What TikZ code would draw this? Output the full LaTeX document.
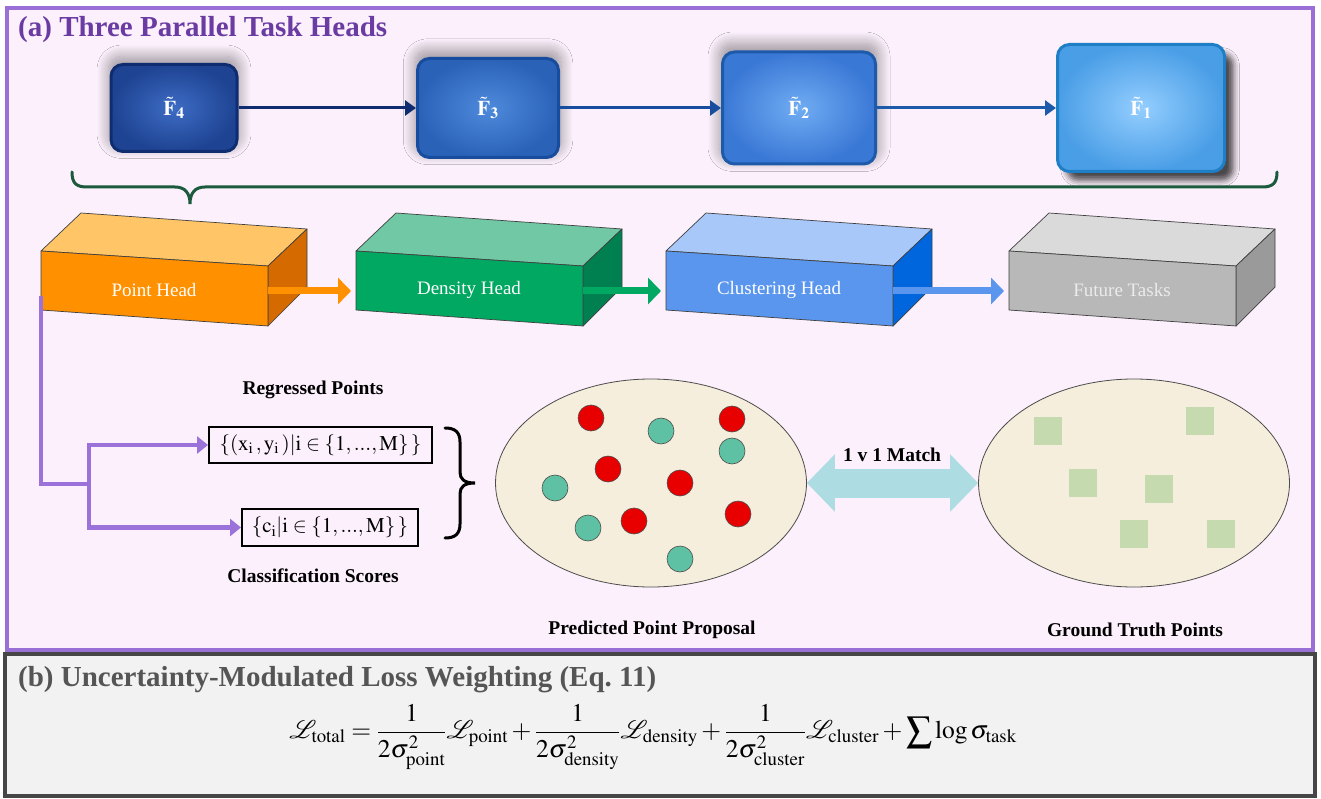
\documentclass[tikz,border=0pt]{standalone}
\usepackage{amsmath}
\usepackage{mathptmx}
\usepackage{fontspec}
\setmainfont{Liberation Serif}
\usetikzlibrary{arrows.meta,shapes.geometric,shadows.blur}

% palette
\definecolor{frameA}{HTML}{9B70D6}
\definecolor{bgA}{HTML}{FBF0FB}
\definecolor{frameB}{HTML}{464646}
\definecolor{bgB}{HTML}{F2F2F2}
\definecolor{titleA}{HTML}{6A3BA2}
\definecolor{titleB}{HTML}{555555}
\definecolor{braceG}{HTML}{1B5A3C}
\definecolor{purpLine}{HTML}{9A72DA}
\definecolor{matchBlue}{HTML}{AEDCE3}
\definecolor{ellFill}{HTML}{F5EEDC}
\definecolor{dotRed}{HTML}{E80000}
\definecolor{dotTeal}{HTML}{5FC1A3}
\definecolor{gtSq}{HTML}{C6DAB0}
% feature boxes: border / outer / inner
\definecolor{fourB}{HTML}{0F2C70}\definecolor{fourO}{HTML}{1E4392}\definecolor{fourI}{HTML}{3D6CC4}
\definecolor{threeB}{HTML}{184C9E}\definecolor{threeO}{HTML}{2A62B8}\definecolor{threeI}{HTML}{4E8ADC}
\definecolor{twoB}{HTML}{1D5AAA}\definecolor{twoO}{HTML}{3A78D6}\definecolor{twoI}{HTML}{70ACF2}
\definecolor{oneB}{HTML}{1E7EC6}\definecolor{oneO}{HTML}{4A9EE6}\definecolor{oneI}{HTML}{94CEFF}
% task heads: front / top / side
\definecolor{ptF}{HTML}{FF9000}\definecolor{ptT}{HTML}{FFC566}\definecolor{ptS}{HTML}{D46A00}
\definecolor{dnF}{HTML}{00A862}\definecolor{dnT}{HTML}{70C8A4}\definecolor{dnS}{HTML}{008050}
\definecolor{clF}{HTML}{5A96EE}\definecolor{clT}{HTML}{A8C8FA}\definecolor{clS}{HTML}{0066DD}
\definecolor{fuF}{HTML}{B8B8B8}\definecolor{fuT}{HTML}{DADADA}\definecolor{fuS}{HTML}{9A9A9A}

\newcommand\fsz[1]{\fontsize{#1}{#1}\selectfont}

% a 3-D task head block; #1 name, #2 front-left x, #3 front, #4 top, #5 side, #6 label, #7 label colour
\newcommand\taskblock[7]{%
  \coordinate (#1-A) at (#2,251);
  \coordinate (#1-B) at (#2+227,266);
  \coordinate (#1-C) at (#2+227,326);
  \coordinate (#1-D) at (#2,310);
  \coordinate (#1-E) at (#2+40,213);
  \coordinate (#1-F) at (#2+266,229);
  \coordinate (#1-G) at (#2+266,287);
  \coordinate (#1-in) at (#2-5,291);
  \coordinate (#1-out) at (#2+227,291);
  \filldraw[blockedge, fill=#4] (#1-A) -- (#1-E) -- (#1-F) -- (#1-B) -- cycle;
  \filldraw[blockedge, fill=#5] (#1-B) -- (#1-F) -- (#1-G) -- (#1-C) -- cycle;
  \filldraw[blockedge, fill=#3] (#1-A) -- (#1-B) -- (#1-C) -- (#1-D) -- cycle;
  \node[headlabel, text=#7] (#1) at (#2+113,290) {#6};
}

\begin{document}
\begin{tikzpicture}[x=1pt,y=-1pt,
  feat/.style={rounded corners=12pt, line width=3pt, align=center, text=white,
    font=\fsz{21}},
  glow/.style={blur shadow={shadow xshift=0pt, shadow yshift=6pt, shadow scale=1.04,
    shadow blur radius=11pt, shadow blur steps=20, shadow opacity=38}},
  featarrow/.style={line width=3pt, -{Triangle[length=11pt,width=15pt]}},
  blockedge/.style={draw=black!75, line width=0.7pt, line join=round},
  headlabel/.style={font=\fsz{19}},
  headarrow/.style={line width=7pt, -{Triangle[length=13pt,width=26pt]}},
  purp/.style={draw=purpLine, line width=4.5pt, line join=miter},
  purparrow/.style={purp, -{Triangle[length=11pt,width=17pt]}},
  setbox/.style={draw=black, line width=2pt, inner sep=0pt, font=\fsz{21}},
  caption/.style={font=\bfseries\fsz{19.5}},
  pdot/.style={circle, minimum size=26pt, inner sep=0pt, draw=black!70, line width=0.6pt},
  gsq/.style={rectangle, minimum size=28pt, inner sep=0pt, fill=gtSq},
  bag/.style={ellipse, draw=black!70, line width=0.8pt, fill=ellFill,
    minimum width=311pt, minimum height=208pt, inner sep=0pt}
]
\useasboundingbox (0,0) rectangle (1321,799);
\fill[white] (0,0) rectangle (1321,799);

% panel frames
\draw[line width=4pt, draw=frameA, fill=bgA] (7,8) rectangle (1313,650);
\draw[line width=3.5pt, draw=frameB, fill=bgB] (5,654) rectangle (1315,796);

\node[anchor=base west, text=titleA, font=\bfseries\fsz{29}, inner sep=0pt] (titleA) at (18,37)
  {(a) Three Parallel Task Heads};
\node[anchor=base west, text=titleB, font=\bfseries\fsz{29}, inner sep=0pt] (titleB) at (18,686)
  {(b) Uncertainty-Modulated Loss Weighting (Eq.~11)};

% multi-scale feature maps
\node[feat, draw=fourB, inner color=fourI, outer color=fourO,
  minimum width=126pt, minimum height=87pt, glow]
  (F4) at (174,108) {$\tilde{\mathbf{F}}_{\mathbf{4}}$};
\node[feat, draw=threeB, inner color=threeI, outer color=threeO,
  minimum width=141pt, minimum height=99pt, glow]
  (F3) at (488,108) {$\tilde{\mathbf{F}}_{\mathbf{3}}$};
\node[feat, draw=twoB, inner color=twoI, outer color=twoO,
  minimum width=153pt, minimum height=112pt, glow]
  (F2) at (799,108) {$\tilde{\mathbf{F}}_{\mathbf{2}}$};
\node[feat, draw=oneB, inner color=oneI, outer color=oneO,
  minimum width=167pt, minimum height=127pt,
  blur shadow={shadow xshift=9pt, shadow yshift=-9pt, shadow scale=1,
    shadow blur radius=6pt, shadow opacity=70}]
  (F1) at (1141,108) {$\tilde{\mathbf{F}}_{\mathbf{1}}$};

\draw[featarrow, draw=fourB, fill=fourB] (F4.east) -- (F3.west);
\draw[featarrow, draw=threeB, fill=threeB] (F3.east) -- (F2.west);
\draw[featarrow, draw=twoB, fill=twoB] (F2.east) -- (F1.west);

% shared brace below the feature maps
\draw[draw=braceG, line width=3pt, line cap=round]
  (72,172) .. controls (72,183) and (76,187) .. (87,187) -- (175,187)
  .. controls (185,187) and (190,193) .. (190,204)
  .. controls (190,193) and (195,187) .. (205,187) -- (1262,187)
  .. controls (1273,187) and (1277,183) .. (1277,172);

% task heads
\taskblock{ph}{41}{ptF}{ptT}{ptS}{Point Head}{white}
\taskblock{dh}{356}{dnF}{dnT}{dnS}{Density Head}{white}
\taskblock{ch}{666}{clF}{clT}{clS}{Clustering Head}{white}
\taskblock{ft}{1009}{fuF}{fuT}{fuS}{Future Tasks}{white!92!black}

\draw[headarrow, draw=ptF, fill=ptF] (ph-out) -- (dh-in);
\draw[headarrow, draw=dnF, fill=dnF] (dh-out) -- (ch-in);
\draw[headarrow, draw=clF, fill=clF] (ch-out) -- (ft-in);

% outputs of the point head
\node[setbox, minimum width=223pt, minimum height=36pt] (reg) at (320.5,445)
  {$\{(\mathrm{x}_{\mathrm{i}}\,,\mathrm{y}_{\mathrm{i}}\,)|\mathrm{i}\in\{1,\mathrm{...},\mathrm{M}\}\,\}$};
\node[setbox, minimum width=176pt, minimum height=37pt] (cls) at (330,527.5)
  {$\{\mathrm{c}_{\mathrm{i}}|\mathrm{i}\in\{1,\mathrm{...},\mathrm{M}\}\,\}$};
\node[caption] (regcap) at (313,390) {Regressed Points};
\node[caption] (clscap) at (313,576) {Classification Scores};

\coordinate (ph-tap) at (41,296);
\coordinate (split) at (89,484);
\draw[purp] (ph-tap) |- (split);
\draw[purparrow] (split) |- (reg.west);
\draw[purparrow] (split) |- (cls.west);

% brace grouping the two outputs
\draw[line width=3pt, line cap=round]
  (445,428) .. controls (455,428) and (460,432) .. (460,442) -- (460,472)
  .. controls (460,479) and (464,483) .. (475,483)
  .. controls (464,483) and (460,487) .. (460,494) -- (460,524)
  .. controls (460,534) and (455,538) .. (445,538);

% predicted proposals and ground truth
\node[bag] (pred) at (651,483) {};
\node[bag] (gt) at (1134,483) {};

\foreach \px/\py [count=\i] in {591/418, 732/419, 608/469, 680/483, 634/521, 738/514}
  \node[pdot, fill=dotRed] (red\i) at (\px,\py) {};
\foreach \px/\py [count=\i] in {661/431, 732/451, 555/488, 588/528, 680/559}
  \node[pdot, fill=dotTeal] (teal\i) at (\px,\py) {};
\foreach \px/\py [count=\i] in {1048/431, 1200/421, 1083/483, 1159/489, 1134/534, 1221/534}
  \node[gsq] (sq\i) at (\px,\py) {};

\draw[line width=29pt, draw=matchBlue,
  {Triangle[length=28pt,width=56pt]}-{Triangle[length=28pt,width=56pt]}]
  (pred.east) -- (gt.west);
\node[caption] (matchlbl) at (892,455) {1 v 1 Match};

\node[caption] (predcap) at (652,630) {Predicted Point Proposal};
\node[caption] (gtcap) at (1135,630) {Ground Truth Points};

% loss weighting
\node[font=\fsz{25.5}] (loss) at (653,737)
  {$\displaystyle \mathcal{L}_{\mathrm{total}}=\frac{1}{2\sigma^{2}_{\mathrm{point}}}\mathcal{L}_{\mathrm{point}}
   +\frac{1}{2\sigma^{2}_{\mathrm{density}}}\mathcal{L}_{\mathrm{density}}
   +\frac{1}{2\sigma^{2}_{\mathrm{cluster}}}\mathcal{L}_{\mathrm{cluster}}
   +\sum\log\sigma_{\mathrm{task}}$};
\end{tikzpicture}
\end{document}
